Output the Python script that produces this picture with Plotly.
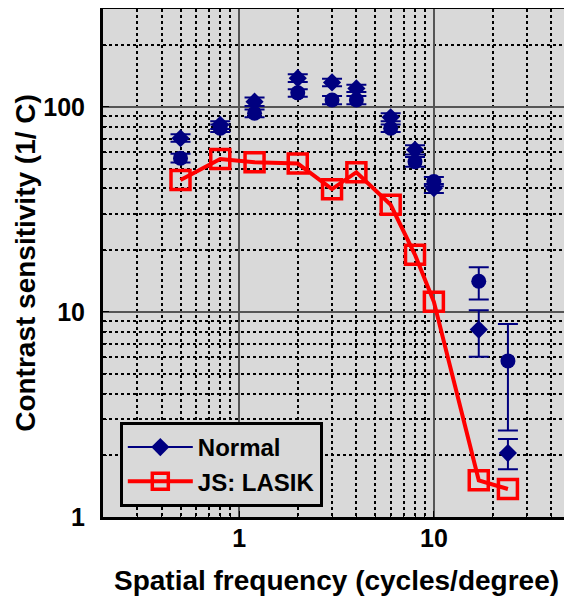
import numpy as np
import plotly.graph_objects as go

# ---- data ----
freq = [0.5, 0.8, 1.2, 2, 3, 4, 6, 8, 10, 17, 24]

normal_a = [70.3, 81.7, 106, 138, 131.5, 123, 89, 61.7, 40.1, 8.2, 2.05]
normal_a_hi = [73.5, 85, 111, 144, 137, 128, 93, 65, 42, 10.2, 2.40]
normal_a_lo = [67.5, 78, 101, 132, 126, 118, 85, 58.5, 38, 6.05, 1.71]

normal_b = [56.2, 78.7, 93, 117, 108, 108, 78.7, 54, 43.2, 14.1, 5.77]
normal_b_hi = [59, 82, 97, 122, 113, 113, 82, 57, 45.5, 16.5, 8.74]
normal_b_lo = [53.5, 75.5, 89, 112, 103, 103, 75.5, 51, 41, 11.5, 2.64]

lasik = [44, 55.7, 53.7, 52.9, 39.7, 48, 33.3, 19.0, 11.2, 1.51, 1.37]

NAVY = "#000080"
RED = "#ff0000"
FONT = "Arial, Liberation Sans, sans-serif"

def errs(v, hi, lo):
    return dict(type="data", symmetric=False,
                array=list(np.array(hi) - np.array(v)),
                arrayminus=list(np.array(v) - np.array(lo)),
                color=NAVY, thickness=2, width=10)

fig = go.Figure()

fig.add_trace(go.Scatter(
    x=freq, y=normal_b, mode="markers", showlegend=False,
    marker=dict(symbol="circle", size=15, color=NAVY),
    error_y=errs(normal_b, normal_b_hi, normal_b_lo)))

fig.add_trace(go.Scatter(
    x=freq, y=normal_a, mode="markers", showlegend=False,
    marker=dict(symbol="diamond", size=14, color=NAVY),
    error_y=errs(normal_a, normal_a_hi, normal_a_lo)))

# legend entry for Normal (line + diamond)
fig.add_trace(go.Scatter(
    x=[None], y=[None], mode="lines+markers", name="Normal",
    line=dict(color=NAVY, width=2),
    marker=dict(symbol="diamond", size=14, color=NAVY)))

fig.add_trace(go.Scatter(
    x=freq, y=lasik, mode="lines+markers", name="JS: LASIK",
    line=dict(color=RED, width=4),
    marker=dict(symbol="square-open", size=19, color=RED,
                line=dict(color=RED, width=3.5))))

axis_common = dict(
    type="log", automargin=False,
    showline=True, mirror=True, linecolor="black", linewidth=3,
    showgrid=True, gridcolor="#555555", gridwidth=1.5,
    tickmode="linear", tick0=0, dtick=1,
    ticks="inside", ticklen=6, tickcolor="black",
    tickfont=dict(family=FONT, size=25, color="black", weight="bold"),
    minor=dict(dtick="D1", ticks="inside", ticklen=4, tickcolor="black",
               showgrid=True, gridcolor="black", griddash="dot", gridwidth=1.5),
    zeroline=False,
)

fig.update_xaxes(
    **axis_common,
    range=[np.log10(0.2), np.log10(50)],
    ticklabelstandoff=-3,
    title=dict(text="Spatial frequency (cycles/degree)", standoff=25,
               font=dict(family=FONT, size=28, color="black", weight="bold")),
)
fig.update_yaxes(
    **axis_common,
    range=[0, np.log10(300)],
    ticklabelstandoff=10,
    title=dict(text="Contrast sensitivity (1/ C)", standoff=0,
               font=dict(family=FONT, size=28, color="black", weight="bold")),
)

fig.update_layout(
    width=564, height=588,
    margin=dict(l=95, r=2, t=1, b=79),
    paper_bgcolor="white", plot_bgcolor="#d9d9d9",
    font=dict(family=FONT, color="black"),
    legend=dict(x=0.036, y=0.187, xanchor="left", yanchor="top",
                bgcolor="#d9d9d9", bordercolor="black", borderwidth=3,
                font=dict(family=FONT, size=24, color="black", weight="bold"),
                itemwidth=65, tracegroupgap=0),
)

fig.write_html("out.html")
